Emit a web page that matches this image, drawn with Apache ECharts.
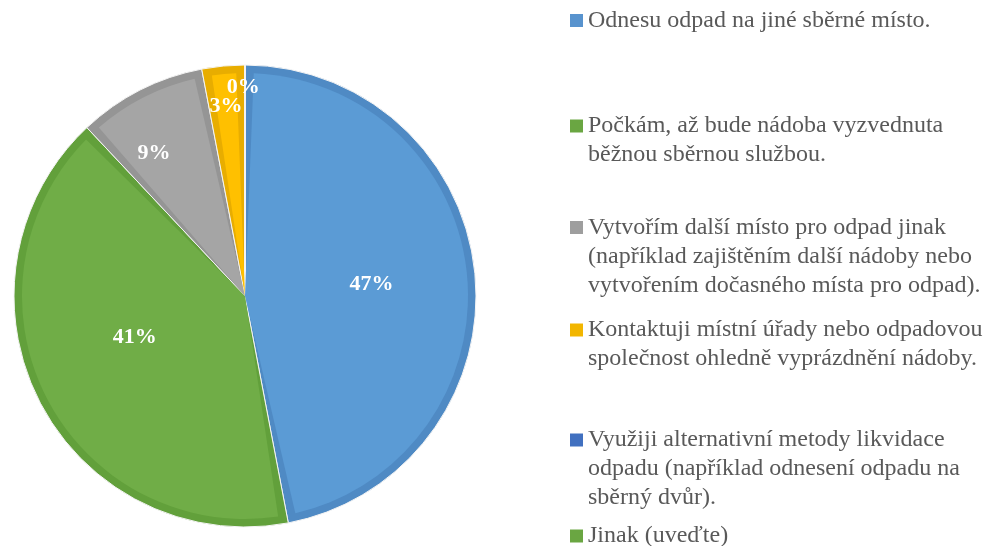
<!DOCTYPE html>
<html>
<head>
<meta charset="utf-8">
<script src="https://cdn.jsdelivr.net/npm/echarts@6/dist/echarts.min.js"></script>
<style>html,body{margin:0;padding:0;background:#fff}#c{width:983px;height:546px}</style>
</head>
<body>
<div id="c"></div>
<script>
// ---- data ----
const categories = [
  'Odnesu odpad na jiné sběrné místo.',
  'Počkám, až bude nádoba vyzvednuta\nběžnou sběrnou službou.',
  'Vytvořím další místo pro odpad jinak\n(například zajištěním další nádoby nebo\nvytvořením dočasného místa pro odpad).',
  'Kontaktuji místní úřady nebo odpadovou\nspolečnost ohledně vyprázdnění nádoby.',
  'Využiji alternativní metody likvidace\nodpadu (například odnesení odpadu na\nsběrný dvůr).',
  'Jinak (uveďte)'
];
const values = [47, 41, 9, 3, 0, 0];

// ---- styles ----
const lightColors = ['#5B9BD5', '#70AD47', '#A5A5A5', '#FFC000', '#4472C4', '#70AD47'];
const darkColors  = ['#4F8AC4', '#62A03B', '#959595', '#E8AD00', '#3B66B3', '#62A03B'];
const legendColors = ['#5893CE', '#6AA642', '#9E9E9E', '#F2B600', '#4170C0', '#6AA642'];
// label padding [right, left] (horizontal nudge) and vertical nudge (px, via an empty line)
const labelPadX = [[0, 0], [0, 6], [24, 0], [2, 0], [0, 0], [0, 0]];
const labelShiftY = [0, -16, 12, 0, 0, 0];
const legendCenters = [20.5, 126, 227.5, 330, 440, 536];
const LH = 29;
const CX = 245, CY = 296, R = 231, BAND = 8;

function labelOpt(i, show) {
  const s = labelShiftY[i];
  const o = { show: show, padding: [0, labelPadX[i][0], 0, labelPadX[i][1]] };
  if (s < 0) { o.formatter = '{d}%\n '; o.lineHeight = -2 * s; }
  else if (s > 0) { o.formatter = ' \n{d}%'; o.lineHeight = 2 * s; }
  return o;
}

function labelSeries(r0, r1, showIdx, minAngle) {
  return {
    type: 'pie', center: [CX, CY], radius: [r0, r1], startAngle: 90, clockwise: true,
    minAngle: minAngle || 0,
    silent: true, animation: false, avoidLabelOverlap: false,
    emphasis: { disabled: true },
    labelLayout: { hideOverlap: false },
    itemStyle: { color: 'rgba(0,0,0,0)', borderWidth: 0 },
    labelLine: { show: false },
    data: categories.map((n, i) => ({
      name: n, value: values[i],
      label: labelOpt(i, showIdx.indexOf(i) >= 0)
    })),
    label: {
      position: 'inside', formatter: '{d}%',
      fontFamily: 'Liberation Serif', fontWeight: 'bold', fontSize: 22, color: '#fff'
    }
  };
}

const legends = categories.map((name, i) => {
  const n = name.split('\n').length;
  return {
    data: [name], orient: 'vertical', left: 570,
    top: legendCenters[i] - (2 * n - 1) * LH / 2,
    padding: 0, itemGap: 0, itemWidth: 13, itemHeight: 13, icon: 'rect',
    selectedMode: false,
    formatter: (nm) => ' \n'.repeat(n - 1) + nm,
    itemStyle: { color: legendColors[i], borderWidth: 0 },
    textStyle: {
      fontFamily: 'Liberation Serif', fontSize: 24, color: '#595959', lineHeight: LH
    }
  };
});

const chart = echarts.init(document.getElementById('c'), null, { renderer: 'canvas' });
chart.setOption({
  animation: false,
  backgroundColor: '#fff',
  legend: legends,
  series: [
    {
      type: 'pie', center: [CX, CY], radius: R, startAngle: 90, clockwise: true,
      silent: true, animation: false, emphasis: { disabled: true },
      itemStyle: { borderColor: '#f4f4f4', borderWidth: 1 },
      label: { show: false }, labelLine: { show: false },
      data: categories.map((n, i) => ({ name: n, value: values[i], itemStyle: { color: darkColors[i] } }))
    },
    {
      type: 'pie', center: [CX, CY], radius: R - BAND, startAngle: 90, clockwise: true,
      padAngle: 4.5,
      silent: true, animation: false, emphasis: { disabled: true },
      itemStyle: { borderWidth: 0 },
      label: { show: false }, labelLine: { show: false },
      // empty (zero) answers have no visible wedge
      data: categories.map((n, i) => ({ name: n, value: values[i] > 0 ? values[i] : '-', itemStyle: { color: lightColors[i] } }))
    },
    labelSeries(0, 248, [0, 1]),
    labelSeries(111, 231, [2]),
    labelSeries(145, 231, [3]),
    labelSeries(180, 231, [4], 0.3)
  ]
});
</script>
</body>
</html>
